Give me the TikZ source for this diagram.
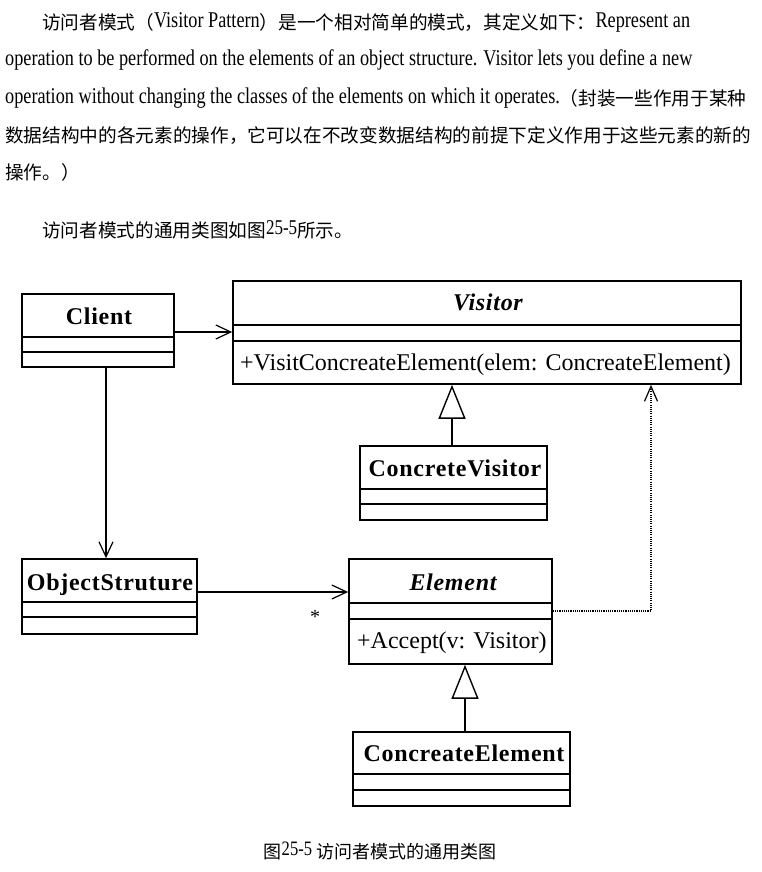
\documentclass[tikz,border=0pt]{standalone}
\usepackage{fontspec}
\setmainfont{Liberation Serif}
\newfontfamily\cjkfont{Noto Sans CJK SC}
\newfontfamily\parafont[FakeStretch=0.81]{Liberation Serif}
\newfontfamily\clsfont[LetterSpace=3]{Liberation Serif}
\usetikzlibrary{arrows.meta}
\newcommand\zhtext[1]{\raisebox{-2.5pt}{\cjkfont\fontsize{18.65}{22}\selectfont #1}}
\newcommand\zhcap[1]{\raisebox{-2.5pt}{\cjkfont\fontsize{18}{22}\selectfont #1}}
\tikzset{
  para/.style={anchor=base west, inner sep=0pt, font=\parafont\fontsize{22.5}{24}\selectfont},
  umlbox/.style={draw, line width=1.6pt, inner sep=0pt, rectangle},
  umlline/.style={line width=1.5pt},
  clsname/.style={anchor=base, inner sep=0pt, font=\clsfont\bfseries\fontsize{24}{28}\selectfont},
  absname/.style={anchor=base, inner sep=0pt, font=\clsfont\bfseries\itshape\fontsize{24}{28}\selectfont},
  method/.style={anchor=base west, inner sep=0pt, font=\fontsize{24}{28}\selectfont},
  assoc/.style={line width=1.2pt, -{Straight Barb[length=15pt,width=14pt,line width=1.2pt]}},
  gener/.style={line width=1.2pt, -{Triangle[open,length=34pt,width=27pt,line width=1.4pt]}},
  depend/.style={line width=1.2pt, dash pattern=on 1.1pt off 1.1pt, -{Straight Barb[length=15pt,width=13pt,line width=1.2pt]}},
}
\newcommand\umlclass[7]{%
  \node[umlbox, minimum width={#4-#2}, minimum height={#5-#3}] (#1) at ({(#2+#4)/2},{(#3+#5)/2}) {};
  \draw[umlline] (#2,#6) -- (#4,#6);
  \draw[umlline] (#2,#7) -- (#4,#7);
}
\begin{document}
\begin{tikzpicture}[x=1pt,y=-1pt]
\useasboundingbox[fill=white] (0,0) rectangle (761,872);

% paragraph
\node[para] (l1) at (42,27.5) {\zhtext{访问者模式（}Visitor Pattern\zhtext{）是一个相对简单的模式，其定义如下：}Represent an};
\node[para] (l2) at (5,65.5) {operation to be performed on the elements of an object structure. Visitor lets you define a new};
\node[para] (l3) at (5,103) {operation without changing the classes of the elements on which it operates.\zhtext{（封装一些作用于某种}};
\node[para] (l4) at (5,139.5) {\zhtext{数据结构中的各元素的操作，它可以在不改变数据结构的前提下定义作用于这些元素的新的}};
\node[para] (l5) at (5,176.5) {\zhtext{操作。）}};
\node[para] (l6) at (42,234.5) {\zhtext{访问者模式的通用类图如图}{\fontsize{21}{24}\selectfont 25-5}\zhtext{所示。}};

% classes
\umlclass{client}{22}{294}{174}{367}{337}{352}
\node[clsname] (clientT) at (99,324) {Client};

\umlclass{visitor}{233}{281}{741}{384}{325}{341}
\node[absname] (visitorT) at (488,310) {Visitor};
\node[method] (visitorM) at (240,370) {+VisitConcreateElement(elem: ConcreateElement)};

\umlclass{cvisitor}{360}{446}{547}{520}{489}{504}
\node[clsname] (cvisitorT) at (455,476) {ConcreteVisitor};

\umlclass{objs}{22}{559}{197}{634}{602}{617}
\node[clsname] (objsT) at (110,590) {ObjectStruture};

\umlclass{element}{349}{559}{552}{664}{603}{619}
\node[absname] (elementT) at (453,590) {Element};
\node[method] (elementM) at (357,648) {+Accept(v: Visitor)};

\umlclass{celement}{353}{732}{570}{806}{774}{790}
\node[clsname] (celementT) at (464,761) {ConcreateElement};

% connectors
\draw[assoc] (client.east |- 0,332) -- (visitor.west |- 0,332);
\draw[assoc] (client.south -| 106,0) -- (objs.north -| 106,0);
\draw[assoc] (objs.east |- 0,592) -- (element.west |- 0,592);
\node[anchor=base, inner sep=0pt, font=\fontsize{20}{22}\selectfont] (star) at (315,623) {*};
\draw[gener] (cvisitor.north -| 452,0) -- (visitor.south -| 452,0);
\draw[gener] (celement.north -| 465,0) -- (element.south -| 465,0);
\coordinate (bend) at (651,611);
\draw[depend] (element.east |- bend) -- (bend) -- (bend |- visitor.south);

% caption
\node[anchor=base, inner sep=0pt, font=\parafont\fontsize{20.5}{24}\selectfont] (caption) at (380,855.5) {\zhcap{图}25-5 \zhcap{访问者模式的通用类图}};
\end{tikzpicture}
\end{document}
